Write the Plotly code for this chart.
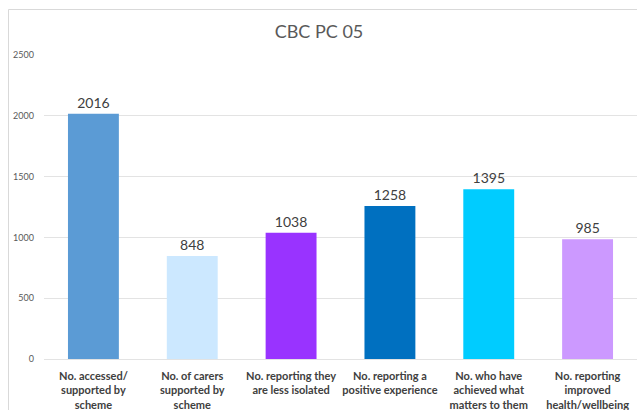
import plotly.graph_objects as go

categories = [
    "No. accessed/<br>supported by<br>scheme",
    "No. of carers<br>supported by<br>scheme",
    "No. reporting they<br>are less isolated",
    "No. reporting a<br>positive experience",
    "No. who have<br>achieved what<br>matters to them",
    "No. reporting<br>improved<br>health/wellbeing",
]
values = [2016, 848, 1038, 1258, 1395, 985]
colors = ["#5B9BD5", "#CCE8FF", "#9933FF", "#0070C0", "#00CCFF", "#CC99FF"]
title = "CBC PC 05"
y_ticks = [0, 500, 1000, 1500, 2000, 2500]

FONT = "Lato, Open Sans, sans-serif"

fig = go.Figure(go.Bar(
    x=categories, y=values,
    marker=dict(color=colors, line=dict(width=0)),
    text=[str(v) for v in values], textposition="outside",
    textfont=dict(size=14, color="#404040", family=FONT),
    cliponaxis=False,
))

W, H = 637, 410
ml, mr, mt, mb = 44, 0, 55, 51
pw, ph = W - ml - mr, H - mt - mb

def px_to_paper_x(px):
    return (px - ml) / pw

def px_to_paper_y(py):
    return (H - mb - py) / ph

fig.update_layout(
    width=W, height=H,
    margin=dict(l=ml, r=mr, t=mt, b=mb, pad=0, autoexpand=False),
    paper_bgcolor="white", plot_bgcolor="white",
    bargap=0.485,
    showlegend=False,
    title=dict(text=title, x=319 / W, xanchor="center", y=1 - 32 / H, yanchor="middle",
               font=dict(size=18, color="#595959", family=FONT)),
    xaxis=dict(showgrid=False, showline=False, ticks="", tickangle=0, automargin=False,
               ticklabelstandoff=9,
               tickfont=dict(size=11, color="#404040", family=FONT, weight="bold")),
    yaxis=dict(range=[0, 2500], tickvals=y_ticks, showgrid=True, gridcolor="#E3E3E3", gridwidth=1,
               zeroline=True, zerolinecolor="#E3E3E3", zerolinewidth=1, showline=False, ticks="",
               ticklabelstandoff=9, automargin=False,
               tickfont=dict(size=9, color="#595959", family=FONT)),
    shapes=[
        dict(type="line", xref="paper", yref="paper",
             x0=px_to_paper_x(8.5), x1=px_to_paper_x(8.5), y0=px_to_paper_y(9.5), y1=px_to_paper_y(420),
             line=dict(color="#D9D9D9", width=1)),
        dict(type="line", xref="paper", yref="paper",
             x0=px_to_paper_x(8.5), x1=px_to_paper_x(650), y0=px_to_paper_y(9.5), y1=px_to_paper_y(9.5),
             line=dict(color="#D9D9D9", width=1)),
    ],
)

fig.write_html("out.html", config={"displayModeBar": False},
               post_script="document.body.style.margin='0';document.body.style.overflow='hidden';")
